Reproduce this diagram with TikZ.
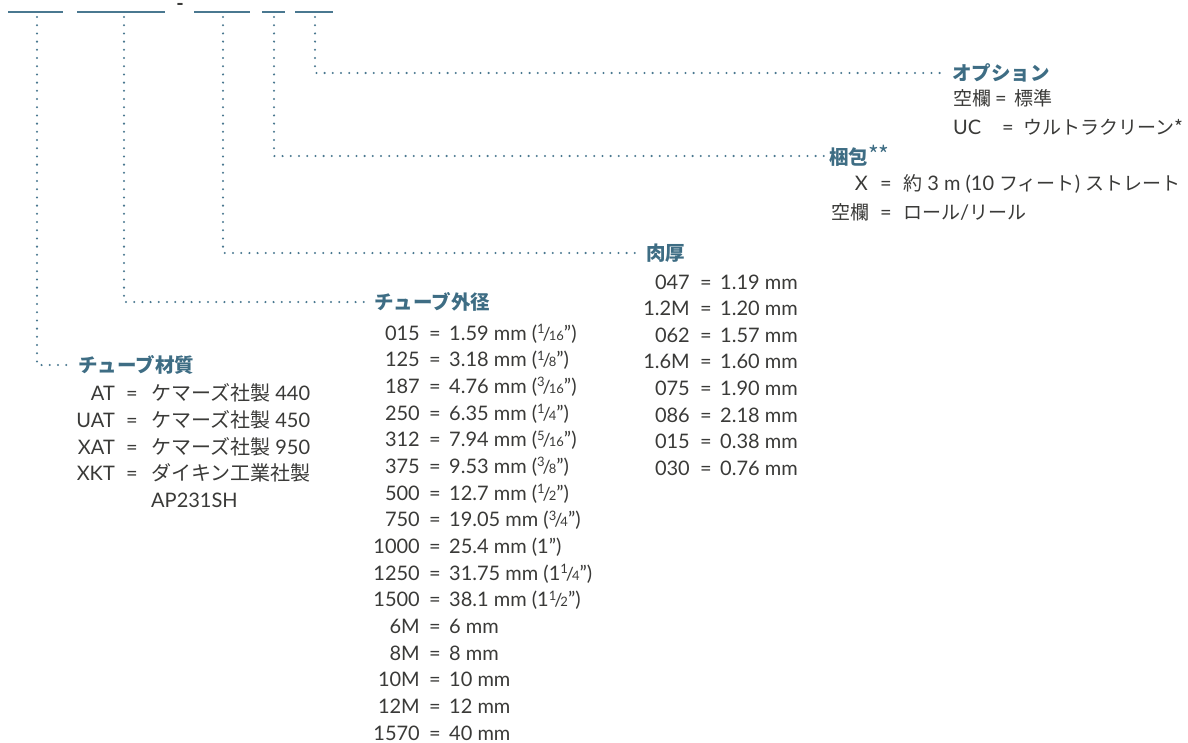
\documentclass[tikz,border=0pt]{standalone}
\usepackage{fontspec}
\setmainfont{Lato}
\newfontfamily\jp{Noto Sans CJK JP}
\definecolor{hd}{HTML}{3E6D84}
\definecolor{tx}{HTML}{3A3A38}
\definecolor{ln}{HTML}{4A7890}
\newcommand\J[1]{{\jp\fontsize{20}{24}\selectfont #1}}
\newcommand\Js[1]{{\jp\fontsize{19}{24}\selectfont #1}}
\newcommand\fr[2]{\raisebox{0.33em}{\fontsize{13}{13}\selectfont #1}\kern-0.1em{\fontsize{18}{18}\selectfont /}\kern-0.1em{\fontsize{13}{13}\selectfont #2}}
\newcommand\rw[7]{%
  \node[txt,anchor=base east] (#1k) at (#2,#5) {#6};
  \node[txt,anchor=base] (#1e) at (#3,#5) {=};
  \node[txt,anchor=base west] (#1v) at (#4,#5) {#7};}
\tikzset{
  txt/.style={inner sep=0pt, font=\fontsize{20}{24}\selectfont, text=tx},
  head/.style={inner sep=0pt, anchor=west, font=\fontsize{19.5}{24}\selectfont\jp\bfseries, text=hd},
  dotl/.style={draw=ln, line width=2.3pt, line cap=round, dash pattern=on 0pt off 8.2pt, shorten >=5pt},
  uline/.style={draw=ln, line width=1.4pt}
}
\begin{document}
\begin{tikzpicture}[x=1pt,y=-1pt]
\useasboundingbox (0,0) rectangle (1188,742);
% code template
\draw[uline] (8,12) -- (63,12);
\draw[uline] (77,12) -- (165,12);
\draw[uline] (194,12) -- (250,12);
\draw[uline] (262,12) -- (285,12);
\draw[uline] (295,12) -- (333,12);
\node[txt,anchor=base,font=\fontsize{20}{24}\selectfont\bfseries] (dash) at (180,10) {-};
\coordinate (d1) at (37,17);
\coordinate (d2) at (124,17);
\coordinate (d3) at (223,17);
\coordinate (d4) at (274,17);
\coordinate (d5) at (315,17);
% headings
\node[head] (h1) at (78,365) {チューブ材質};
\node[head] (h2) at (374,302) {チューブ外径};
\node[head] (h3) at (646,253) {肉厚};
\node[head] (h4) at (829,156) {梱包{\mdseries\fontsize{23}{24}\selectfont\raisebox{1pt}{**}}};
\node[head] (h5) at (952,73) {オプション};
% connectors
\draw[dotl] (d1) |- (h1.west);
\draw[dotl] (d2) |- (h2.west);
\draw[dotl] (d3) |- (h3.west);
\draw[dotl] (d4) |- (h4.west);
\draw[dotl] (d5) |- (h5.west);
% material
\rw{m1}{115}{132}{151}{400}{AT}{\J{ケマーズ社製} 440}
\rw{m2}{115}{132}{151}{427}{UAT}{\J{ケマーズ社製} 450}
\rw{m3}{115}{132}{151}{454}{XAT}{\J{ケマーズ社製} 950}
\rw{m4}{115}{132}{151}{480}{XKT}{\J{ダイキン工業社製}}
\node[txt,anchor=base west] (m5) at (151,507) {AP231SH};
% outer diameter
\rw{o1}{420}{435}{449}{340.0}{015}{1.59 mm (\fr{1}{16}")}
\rw{o2}{420}{435}{449}{366.7}{125}{3.18 mm (\fr{1}{8}")}
\rw{o3}{420}{435}{449}{393.3}{187}{4.76 mm (\fr{3}{16}")}
\rw{o4}{420}{435}{449}{420.0}{250}{6.35 mm (\fr{1}{4}")}
\rw{o5}{420}{435}{449}{446.7}{312}{7.94 mm (\fr{5}{16}")}
\rw{o6}{420}{435}{449}{473.3}{375}{9.53 mm (\fr{3}{8}")}
\rw{o7}{420}{435}{449}{500.0}{500}{12.7 mm (\fr{1}{2}")}
\rw{o8}{420}{435}{449}{526.7}{750}{19.05 mm (\fr{3}{4}")}
\rw{o9}{420}{435}{449}{553.3}{1000}{25.4 mm (1")}
\rw{o10}{420}{435}{449}{580.0}{1250}{31.75 mm (1\fr{1}{4}")}
\rw{o11}{420}{435}{449}{606.7}{1500}{38.1 mm (1\fr{1}{2}")}
\rw{o12}{420}{435}{449}{633.3}{6M}{6 mm}
\rw{o13}{420}{435}{449}{660.0}{8M}{8 mm}
\rw{o14}{420}{435}{449}{686.7}{10M}{10 mm}
\rw{o15}{420}{435}{449}{713.3}{12M}{12 mm}
\rw{o16}{420}{435}{449}{740.0}{1570}{40 mm}
% wall
\rw{w1}{690}{706}{720}{289.0}{047}{1.19 mm}
\rw{w2}{690}{706}{720}{315.6}{1.2M}{1.20 mm}
\rw{w3}{690}{706}{720}{342.2}{062}{1.57 mm}
\rw{w4}{690}{706}{720}{368.8}{1.6M}{1.60 mm}
\rw{w5}{690}{706}{720}{395.4}{075}{1.90 mm}
\rw{w6}{690}{706}{720}{422.0}{086}{2.18 mm}
\rw{w7}{690}{706}{720}{448.6}{015}{0.38 mm}
\rw{w8}{690}{706}{720}{475.2}{030}{0.76 mm}
% packaging
\rw{p1}{868}{886}{903}{190}{X}{\Js{約} 3 m (10 \Js{フィート}) \Js{ストレート}}
\rw{p2}{870}{886}{903}{219}{\Js{空欄}}{\Js{ロール}/\Js{リール}}
% option
\node[txt,anchor=base west] (q1k) at (953,105) {\Js{空欄}};
\node[txt,anchor=base] (q1e) at (1001,105) {=};
\node[txt,anchor=base west] (q1v) at (1014,105) {\Js{標準}};
\node[txt,anchor=base west] (q2k) at (953,134) {UC};
\node[txt,anchor=base] (q2e) at (1008,134) {=};
\node[txt,anchor=base west] (q2v) at (1023,134) {\Js{ウルトラクリーン*}};
\end{tikzpicture}
\end{document}
